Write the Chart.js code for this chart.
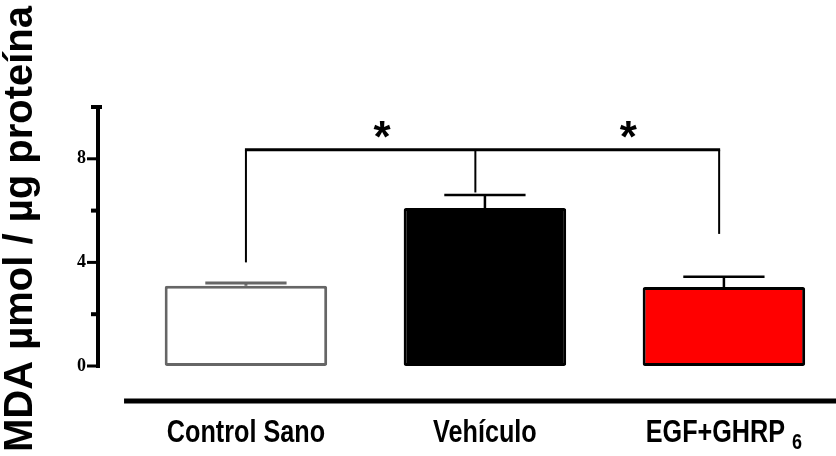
<!DOCTYPE html>
<html>
<head>
<meta charset="utf-8">
<script src="https://cdn.jsdelivr.net/npm/chart.js@4.4.0/dist/chart.umd.min.js"></script>
<style>
  html, body { margin: 0; padding: 0; background: #fff; }
  #wrap { width: 836px; height: 456px; position: relative; }
</style>
</head>
<body>
<div id="wrap"><canvas id="myChart"></canvas></div>
<script>
// data
const groups = ['Control Sano', 'Vehículo', 'EGF+GHRP'];
const groupSubs = ['', '', '6'];
const means = [3.1, 6.1, 3.05];
const errors = [0.1, 0.5, 0.4];
const fills = ['#ffffff', '#000000', '#ff0000'];
const edges = ['#666666', '#000000', '#000000'];
const yMajorTicks = [0, 4, 8];
const yMinorTicks = [2, 6, 10];
const yTitle = 'MDA µmol / µg proteína';

// significance bracket (in data units)
const bracketLevel = 8.35;
const bracketX = [0, 0.96, 1.98];
const bracketEnds = [4.0, 6.7, 5.1];
const starX = [0.57, 1.6];
const starLevel = 9.15;

const extras = {
  id: 'extras',
  afterDatasetsDraw(chart) {
    const { ctx, scales: { x, y } } = chart;
    const meta = chart.getDatasetMeta(0);
    ctx.save();
    ctx.lineCap = 'butt';

    // error bars (upper only)
    means.forEach((m, i) => {
      const cx = x.getPixelForValue(i);
      const half = meta.data[i].width / 4;
      const top = y.getPixelForValue(m + errors[i]);
      const barTop = y.getPixelForValue(m);
      ctx.strokeStyle = i === 0 ? edges[0] : '#000';
      ctx.lineWidth = i === 0 ? 3 : 2.5;
      ctx.beginPath();
      ctx.moveTo(cx, top);
      ctx.lineTo(cx, barTop);
      ctx.moveTo(cx - half, top);
      ctx.lineTo(cx + half, top);
      ctx.stroke();
    });

    // bracket
    ctx.strokeStyle = '#000';
    const by = y.getPixelForValue(bracketLevel);
    ctx.lineWidth = 3;
    ctx.beginPath();
    ctx.moveTo(x.getPixelForValue(bracketX[0]) - 1, by);
    ctx.lineTo(x.getPixelForValue(bracketX[bracketX.length - 1]) + 1, by);
    ctx.stroke();
    ctx.lineWidth = 2;
    bracketX.forEach((bx, i) => {
      const px = x.getPixelForValue(bx);
      ctx.beginPath();
      ctx.moveTo(px, by);
      ctx.lineTo(px, y.getPixelForValue(bracketEnds[i]));
      ctx.stroke();
    });

    // stars
    ctx.fillStyle = '#000';
    ctx.font = 'bold 44px "Liberation Sans"';
    ctx.textAlign = 'center';
    ctx.textBaseline = 'alphabetic';
    starX.forEach(sx => {
      const mt = ctx.measureText('*');
      const cy = y.getPixelForValue(starLevel);
      const off = (mt.actualBoundingBoxAscent - mt.actualBoundingBoxDescent) / 2;
      ctx.fillText('*', x.getPixelForValue(sx), cy + off);
    });
    ctx.restore();
  },
  afterDraw(chart) {
    const { ctx, scales: { x, y } } = chart;
    const left = chart.chartArea.left;
    ctx.save();
    ctx.strokeStyle = '#000';

    // y axis line
    ctx.lineWidth = 4;
    ctx.beginPath();
    ctx.moveTo(left, y.getPixelForValue(10) - 1);
    ctx.lineTo(left, y.getPixelForValue(0) + 2);
    ctx.stroke();

    // ticks
    ctx.lineWidth = 3;
    yMajorTicks.forEach(v => {
      const py = y.getPixelForValue(v);
      ctx.beginPath();
      ctx.moveTo(left - 11, py);
      ctx.lineTo(left, py);
      ctx.stroke();
    });
    ctx.lineWidth = 4;
    yMinorTicks.forEach(v => {
      const py = y.getPixelForValue(v);
      ctx.beginPath();
      ctx.moveTo(left - 7, py);
      ctx.lineTo(left + (v === 10 ? 4 : 0), py);
      ctx.stroke();
    });

    // detached x axis line
    const axY = y.bottom + 35;
    ctx.lineWidth = 5;
    ctx.beginPath();
    ctx.moveTo(x.getPixelForValue(-0.51), axY);
    ctx.lineTo(chart.width, axY);
    ctx.stroke();

    // category labels, drawn a little narrow and tall like the original
    ctx.fillStyle = '#000';
    ctx.textBaseline = 'alphabetic';
    ctx.textAlign = 'left';
    const labY = y.bottom + 76;
    const sx = 0.9, sy = 1.12;
    groups.forEach((g, i) => {
      ctx.font = 'bold 28px "Liberation Sans"';
      const w1 = ctx.measureText(g).width * sx;
      let w2 = 0;
      if (groupSubs[i]) {
        ctx.font = 'bold 20px "Liberation Sans"';
        w2 = ctx.measureText(groupSubs[i]).width * sx + 7;
      }
      const x0 = x.getPixelForValue(i) - (w1 + w2) / 2;
      ctx.save();
      ctx.translate(x0, labY);
      ctx.scale(sx, sy);
      ctx.font = 'bold 28px "Liberation Sans"';
      ctx.fillText(g, 0, 0);
      if (groupSubs[i]) {
        ctx.font = 'bold 20px "Liberation Sans"';
        ctx.fillText(groupSubs[i], (w1 + 7) / sx, 6);
      }
      ctx.restore();
    });

    // y title
    ctx.translate(21, 229);
    ctx.rotate(-Math.PI / 2);
    ctx.font = 'bold 40px "Liberation Sans"';
    ctx.textAlign = 'center';
    ctx.textBaseline = 'middle';
    ctx.fillText(yTitle, 0, 0);
    ctx.restore();
  }
};

new Chart(document.getElementById('myChart'), {
  type: 'bar',
  data: {
    datasets: [{
      data: means.map((v, i) => ({ x: i, y: v })),
      backgroundColor: fills,
      borderColor: edges,
      borderWidth: 3,
      borderSkipped: false,
      borderRadius: 2,
      barPercentage: 0.68,
      categoryPercentage: 1
    }]
  },
  options: {
    responsive: true,
    maintainAspectRatio: false,
    animation: false,
    devicePixelRatio: 1,
    layout: { padding: { top: 107, bottom: 90, left: 0, right: 0 } },
    plugins: { legend: { display: false }, tooltip: { enabled: false } },
    scales: {
      x: {
        type: 'linear',
        display: false,
        offset: false,
        min: -0.619,
        max: 2.469,
        afterBuildTicks: s => { s.ticks = means.map((_, i) => ({ value: i })); }
      },
      y: {
        min: 0,
        max: 10,
        afterBuildTicks: s => { s.ticks = yMajorTicks.map(v => ({ value: v })); },
        afterFit: s => { s.width = 98; },
        grid: { display: false, drawTicks: false },
        border: { display: false },
        ticks: {
          padding: 12,
          color: '#000',
          font: { family: 'Liberation Serif', weight: 'bold', size: 18 }
        }
      }
    }
  },
  plugins: [extras]
});
</script>
</body>
</html>
